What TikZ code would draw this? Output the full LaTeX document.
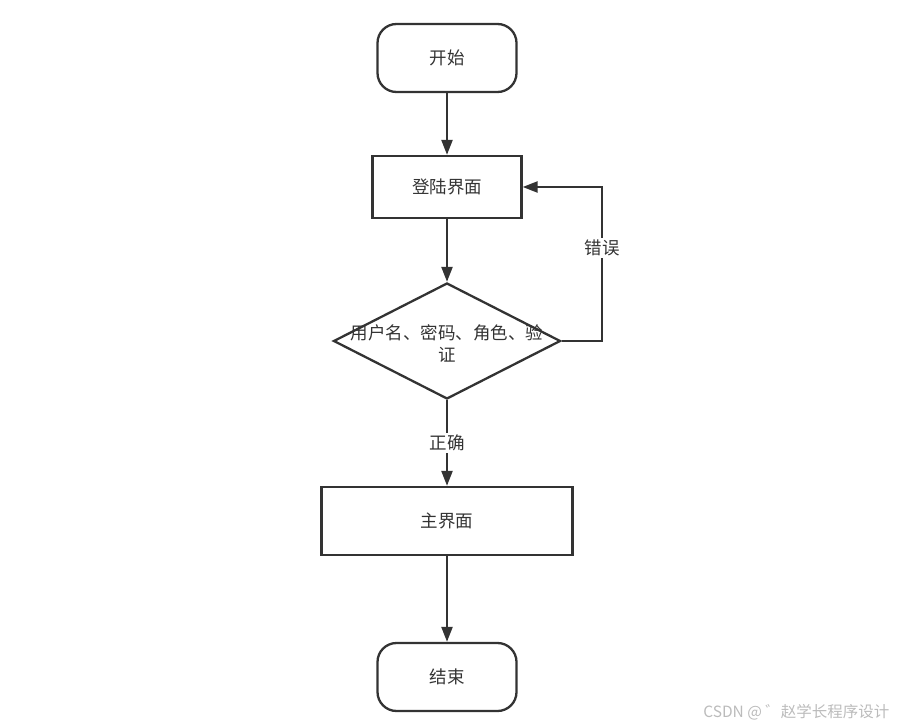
\documentclass[tikz,border=0pt]{standalone}
\usepackage{fontspec}
\setmainfont{Noto Sans CJK SC}
\usetikzlibrary{shapes.geometric,arrows.meta}
\definecolor{ln}{HTML}{333333}
\definecolor{wm}{HTML}{BBBBBB}
\tikzset{
  base/.style={draw=ln, line width=2.3pt, text=ln, font=\fontsize{17.5}{22}\selectfont, inner sep=0pt},
  term/.style={base, rounded corners=19pt, minimum width=139pt, minimum height=68pt},
  proc/.style={base, rectangle, minimum height=62pt},
  dec/.style={base, diamond, minimum width=227pt, minimum height=116pt, aspect=2},
  conn/.style={draw=ln, line width=2.3pt, -{Triangle[length=15pt,width=11pt]}},
  lbl/.style={fill=white, text=ln, font=\fontsize{17.5}{22}\selectfont, inner sep=2pt}
}
\begin{document}
\begin{tikzpicture}[x=1pt,y=-1pt]
\useasboundingbox (0,0) rectangle (899,727);
\node[term] (start) at (447,58) {开始};
\node[proc, minimum width=149pt] (login) at (447,187) {登陆界面};
\node[dec] (chk) at (447,341) {};
\node[text=ln, font=\fontsize{17.5}{22}\selectfont, align=center] (chktxt) at (447,344) {用户名、密码、角色、验\\证};
\node[proc, minimum width=251pt, minimum height=68pt] (main) at (447,521) {主界面};
\node[term] (end) at (447,677) {结束};
\coordinate (cR) at (602,341);
\coordinate (cT) at (602,187);
\draw[conn] (start) -- (login);
\draw[conn] (login) -- (chk.north);
\draw[conn] (chk.south) -- (main) node[lbl, pos=0.5] {正确};
\draw[conn] (chk.east) -- (cR) -- (cT) -- (login.east);
\node[lbl] (err) at (602,248) {错误};
\draw[conn] (main) -- (end);
\node[text=wm, font=\fontsize{15.5}{18}\selectfont, anchor=east] (wmk) at (893,712) {CSDN @ ゛赵学长程序设计};
\end{tikzpicture}
\end{document}
